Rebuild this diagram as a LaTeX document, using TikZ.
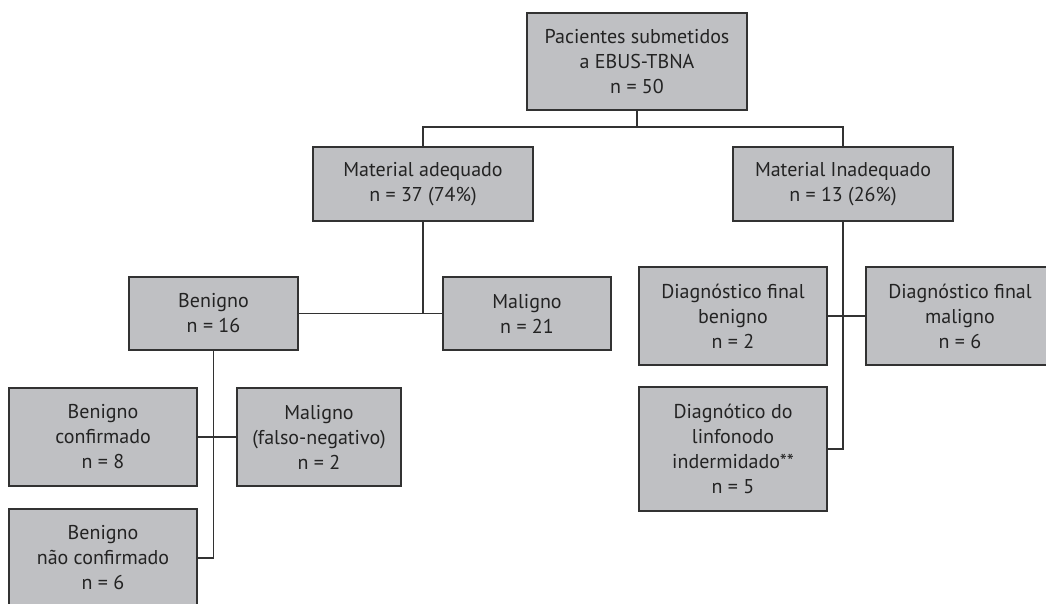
\documentclass[tikz,border=0pt]{standalone}
\usepackage{fontspec}
\setmainfont{PT Sans}
\definecolor{boxfill}{RGB}{191,192,195}
\definecolor{boxline}{RGB}{50,50,50}
\definecolor{txt}{RGB}{35,35,35}
\begin{document}
\begin{tikzpicture}[x=1pt,y=-1pt,
  box/.style={draw=boxline,fill=boxfill,line width=1.4pt,align=center,inner sep=0pt,
    text=txt,font=\fontsize{20}{25}\selectfont},
  conn/.style={draw=boxline,line width=1.2pt}]
\useasboundingbox (0,0) rectangle (1046,604);
\clip (0,0) rectangle (1046,604);
% boxes
\node[box,minimum width=220pt,minimum height=97pt] (top) at (637,61.5) {Pacientes submetidos\\a EBUS-TBNA\\n = 50};
\node[box,minimum width=220pt,minimum height=74pt] (madq) at (423,184) {Material adequado\\n = 37 (74\%)};
\node[box,minimum width=220pt,minimum height=74pt] (minadq) at (843,184) {Material Inadequado\\n = 13 (26\%)};
\node[box,minimum width=169pt,minimum height=73pt] (ben) at (213.5,313.5) {Benigno\\n = 16};
\node[box,minimum width=168pt,minimum height=73pt] (mal) at (527,313.5) {Maligno\\n = 21};
\node[box,minimum width=188pt,minimum height=98pt] (bconf) at (103,437) {Benigno\\confirmado\\n = 8};
\node[box,minimum width=164pt,minimum height=98pt] (malfn) at (319,437) {Maligno\\(falso-negativo)\\n = 2};
\node[box,minimum width=188pt,minimum height=98pt] (bnconf) at (103,558) {Benigno\\não confirmado\\n = 6};
\node[box,minimum width=188pt,minimum height=98pt] (dfb) at (733,316) {Diagnóstico final\\benigno\\n = 2};
\node[box,minimum width=188pt,minimum height=98pt] (dfm) at (960,316) {Diagnóstico final\\maligno\\n = 6};
\node[box,minimum width=188pt,minimum height=124pt] (linf) at (733,449) {Diagnótico do\\linfonodo\\indermidado**\\n = 5};
% connectors
\coordinate (split) at (637,127);
\draw[conn] (top.south) -- (split);
\draw[conn] (madq.north) |- (split) -| (minadq.north);
\draw[conn] (madq.south) -- (madq.south |- ben.east);
\draw[conn] (ben.east) -- (mal.west);
\draw[conn] (ben.south) -- (ben.south |- bnconf.east) -- (bnconf.east);
\draw[conn] (bconf.east) -- (malfn.west);
\draw[conn] (minadq.south) -- (minadq.south |- linf.east) -- (linf.east);
\draw[conn] (dfb.east) -- (dfm.west);
\end{tikzpicture}
\end{document}
